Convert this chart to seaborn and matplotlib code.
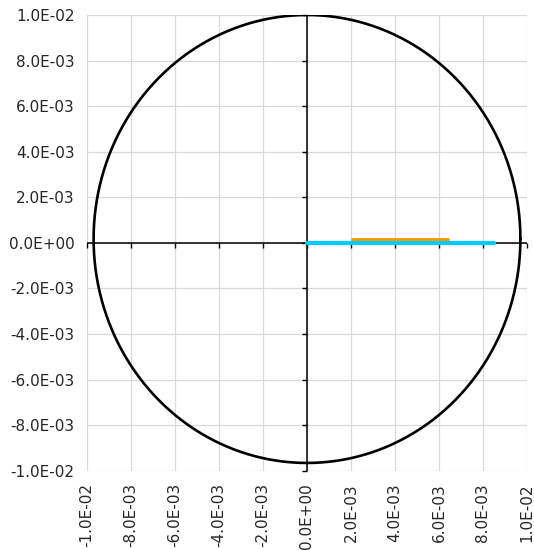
import numpy as np
import pandas as pd
import matplotlib
matplotlib.use("Agg")
import matplotlib.pyplot as plt
from matplotlib.path import Path
import seaborn as sns

# ---- data ----
tick_values = [-0.01, -0.008, -0.006, -0.004, -0.002, 0.0, 0.002, 0.004, 0.006, 0.008, 0.01]
tick_labels = ["-1.0E-02", "-8.0E-03", "-6.0E-03", "-4.0E-03", "-2.0E-03", "0.0E+00",
               "2.0E-03", "4.0E-03", "6.0E-03", "8.0E-03", "1.0E-02"]
circle_center_x = 0.0
circle_center_y = 0.00017
circle_radius_x = 0.0097
circle_radius_y = 0.00983
orange_x = [0.0021, 0.0064]
orange_y = [0.00014, 0.00014]
cyan_x = [0.0, 0.0085]
cyan_y = [0.0, 0.0]

theta = np.linspace(0, 2 * np.pi, 361)
circle_df = pd.DataFrame({
    "x": circle_center_x + circle_radius_x * np.cos(theta),
    "y": circle_center_y + circle_radius_y * np.sin(theta),
})
orange_df = pd.DataFrame({"x": orange_x, "y": orange_y})
cyan_df = pd.DataFrame({"x": cyan_x, "y": cyan_y})

sns.set_theme(style="white")
plt.rcParams["font.family"] = ["DejaVu Sans"]
text_color = "#262626"

fig = plt.figure(figsize=(5.34, 5.5), dpi=100)
ax = fig.add_axes([87 / 534, 1 - 470.7 / 550, 440 / 534, 455.7 / 550])

ax.set_xlim(-0.01, 0.01)
ax.set_ylim(-0.01, 0.01)
ax.set_xticks(tick_values)
ax.set_yticks(tick_values)
ax.set_xticklabels(tick_labels, rotation=90, ha="center", va="top")
ax.set_yticklabels(tick_labels)
ax.tick_params(axis="both", length=0, labelsize=11, colors=text_color)
ax.tick_params(axis="x", pad=9)
ax.tick_params(axis="y", pad=9)
for s in ax.spines.values():
    s.set_visible(False)
ax.grid(True, color="#d9d9d9", linewidth=0.9)
ax.set_axisbelow(True)

# axis lines through zero
ax.axhline(0, color="black", linewidth=1.1, zorder=2)
ax.axvline(0, color="black", linewidth=1.1, zorder=2)

# tick marks on the zero axes (drawn from the tick positions)
down_tick = Path([(0, 0), (0, -1)], [Path.MOVETO, Path.LINETO])
left_tick = Path([(0, 0), (-1, 0)], [Path.MOVETO, Path.LINETO])
zeros = [0.0] * len(tick_values)
ax.plot(tick_values, zeros, linestyle="none", marker=down_tick, markersize=7,
        markeredgewidth=1.0, color="black", zorder=2, clip_on=False)
ax.plot(zeros, tick_values, linestyle="none", marker=left_tick, markersize=7,
        markeredgewidth=1.0, color="black", zorder=2, clip_on=False)

sns.lineplot(data=circle_df, x="x", y="y", sort=False, estimator=None,
             color="black", linewidth=1.9, ax=ax, zorder=3)
sns.lineplot(data=orange_df, x="x", y="y", sort=False, estimator=None,
             color="#FF9900", linewidth=2.8, ax=ax, zorder=4)
sns.lineplot(data=cyan_df, x="x", y="y", sort=False, estimator=None,
             color="#00CCFF", linewidth=3.0, ax=ax, zorder=5)

ax.set_xlabel("")
ax.set_ylabel("")

fig.savefig("out.png", dpi=100)
